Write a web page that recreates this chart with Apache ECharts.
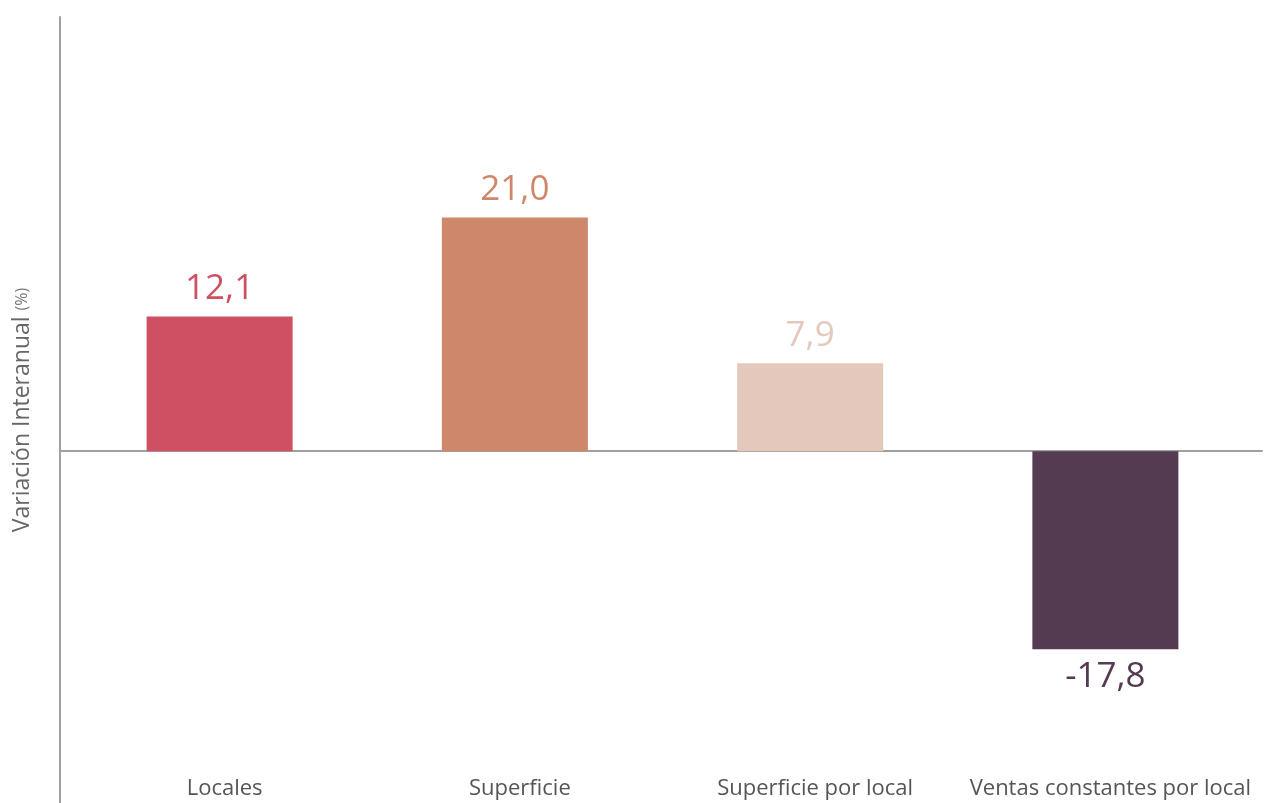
<!DOCTYPE html>
<html><head><meta charset="utf-8">
<script src="https://cdn.jsdelivr.net/npm/echarts@6/dist/echarts.min.js"></script>
<style>html,body{margin:0;padding:0;background:#fff}#c{width:1272px;height:803px}</style>
</head><body><div id="c"></div>
<script>
var categories = ['Locales', 'Superficie', 'Superficie por local', 'Ventas constantes por local'];
var values = [12.1, 21.0, 7.9, -17.8];
var colors = ['#D05063', '#CF876B', '#E5C8BC', '#553B52'];
var yMin = -31.6, yMax = 39;

var chart = echarts.init(document.getElementById('c'));
var fmt = function(p){ return p.value.toFixed(1).replace('.', ','); };
chart.setOption({
  animation: false,
  grid: [
    {left: 72, right: 19, top: 17, bottom: 0},
    {left: 60, right: 10, top: 17, bottom: 0}
  ],
  xAxis: [
    {type: 'category', gridIndex: 0, data: categories,
     axisLine: {show: false, onZero: false}, axisTick: {show: false},
     axisLabel: {interval: 0, margin: -25, verticalAlign: 'top', color: '#555', fontSize: 22,
       fontFamily: '"Open Sans", sans-serif', padding: [0,0,0,10]}},
    {type: 'category', gridIndex: 1, data: categories,
     axisLine: {show: true, onZero: true, lineStyle: {color: '#a0a0a0', width: 2}},
     axisTick: {show: false}, axisLabel: {show: false}}
  ],
  yAxis: [
    {type: 'value', gridIndex: 0, min: yMin, max: yMax, show: false},
    {type: 'value', gridIndex: 1, min: yMin, max: yMax,
     axisLine: {show: true, lineStyle: {color: '#a0a0a0', width: 2}},
     axisTick: {show: false}, axisLabel: {show: false}, splitLine: {show: false},
     name: '{a|Variación Interanual }{b|(%)}', nameLocation: 'middle', nameGap: 26,
     nameTextStyle: {rich: {
       a: {fontSize: 23, color: '#666', fontFamily: '"Open Sans", sans-serif'},
       b: {fontSize: 16, color: '#777', fontFamily: '"Open Sans", sans-serif'}
     }}}
  ],
  series: [{
    type: 'bar', xAxisIndex: 0, yAxisIndex: 0, barWidth: 146,
    data: values.map(function(v, i){
      return {value: v, itemStyle: {color: colors[i]},
        label: {color: colors[i], position: v < 0 ? 'bottom' : 'top'}};
    }),
    label: {show: true, formatter: fmt, fontSize: 35, distance: 10,
      fontFamily: '"Open Sans", sans-serif'}
  }]
});
</script></body></html>
